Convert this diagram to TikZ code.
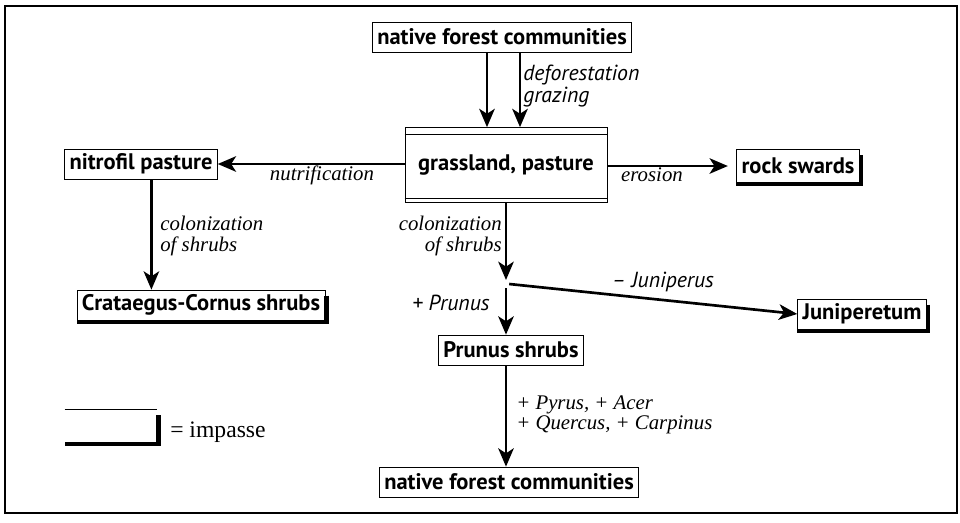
\documentclass[tikz,border=0pt]{standalone}
\usepackage{fontspec}
\setmainfont{Liberation Serif}
\setsansfont{PT Sans}
\usetikzlibrary{arrows.meta}

\begin{document}
\begin{tikzpicture}[x=0.025cm,y=-0.025cm,
  box/.style={draw,line width=0.5pt,inner xsep=3.5pt,inner ysep=0pt,minimum height=0.75cm,
    font=\sffamily\bfseries\fontsize{16}{18}\selectfont},
  arr/.style={line width=1.9pt,-{Stealth[length=13pt,width=11pt,inset=3.5pt]}},
  lab/.style={inner sep=0pt,font=\itshape\fontsize{14.8}{14.5}\selectfont},
  slab/.style={inner sep=0pt,font=\sffamily\itshape\fontsize{15.5}{16}\selectfont},
  shade/.style={line width=3.2pt}]
\useasboundingbox (0,0) rectangle (960,522);
\draw[line width=0.8pt] (5,6) rectangle (957,513);

% Boxes
\node[box] (natf) at (502,37) {native forest communities};
\node[box,minimum width=5.05cm,minimum height=1.875cm] (grass) at (506,165) {grassland, pasture};
\node[box] (nitro) at (141,164) {nitrofil pasture};
\node[box,minimum height=0.82cm] (rock) at (798,166) {rock swards};
\node[box] (crat) at (201,305) {Crataegus-Cornus shrubs};
\node[box] (junip) at (862,314) {Juniperetum};
\node[box] (prunus) at (511,350) {Prunus shrubs};
\node[box] (natb) at (509,482) {native forest communities};
\node[minimum width=2.3cm,minimum height=0.82cm] (leg) at (111,426) {};
\draw[line width=0.5pt] (leg.north west) -- (leg.north east);

% inner lines of the grassland box
\draw[thin] ([yshift=-0.175cm]grass.north west) -- ([yshift=-0.175cm]grass.north east);
\draw[thin] ([yshift=0.125cm]grass.south west) -- ([yshift=0.125cm]grass.south east);

% impasse shadows
\foreach \n in {rock,crat,junip,leg}
  \draw[shade] ([xshift=1pt,yshift=-0.15cm]\n.north east) -- ([xshift=1pt,yshift=-1pt]\n.south east) -- ([yshift=-1pt]\n.south west);

% Arrows
\path ([xshift=-0.375cm]natf.south) coordinate (d1)
      ([xshift=0.45cm]natf.south) coordinate (d2)
      ([xshift=0.26cm]nitro.south) coordinate (c1);
\coordinate (fork) at (506,284);
\draw[arr] (d1) -- (d1 |- grass.north);
\draw[arr] (d2) -- (d2 |- grass.north);
\draw[arr] (grass.west |- nitro) -- (nitro.east);
\draw[arr,shorten >=6pt] (grass.east |- rock) -- (rock.west);
\draw[arr] (c1) -- (c1 |- crat.north);
\draw[arr] (grass.south) -- ([yshift=0.1cm]fork);
\draw[arr] ([yshift=-0.1cm]fork) -- (fork |- prunus.north);
\draw[arr] ([xshift=0.08cm]fork) -- (junip.west);
\draw[arr] (fork |- prunus.south) -- (fork |- natb.north);

% Labels
\node[slab,anchor=west,align=left] (defo) at (523,86) {deforestation\\grazing};
\node[lab] (nutr) at (322,175) {nutrification};
\node[lab] (eros) at (652,175) {erosion};
\node[lab,anchor=west,align=left] (colL) at (160,236) {colonization\\of shrubs};
\node[lab,anchor=east,align=right] (colR) at (502,236) {colonization\\of shrubs};
\node[slab] (minj) at (663,282) {-- Juniperus};
\node[slab] (plpr) at (451,303) {+ Prunus};
\node[lab,anchor=west,align=left] (pyrus) at (516,415) {+ Pyrus, + Acer\\+ Quercus, + Carpinus};
\node[anchor=west,inner sep=0pt,font=\fontsize{16.8}{18}\selectfont] (imp) at (170,432) {= impasse};
\end{tikzpicture}
\end{document}
